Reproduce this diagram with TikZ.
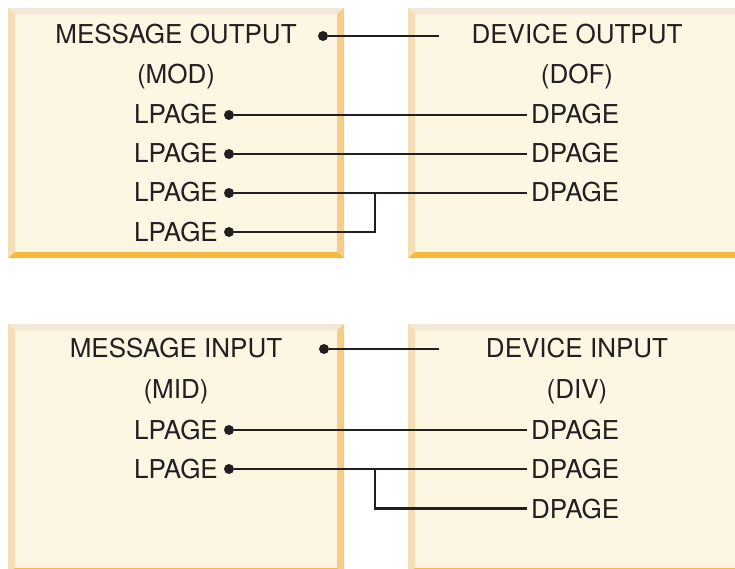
\documentclass[tikz,border=0pt]{standalone}
\usepackage{fontspec}
\setmainfont{TeX Gyre Heros}
\usepackage{tikz}
\usetikzlibrary{positioning}

\definecolor{panelfill}{HTML}{FDF6E3}
\definecolor{beveltop}{HTML}{F2E9D8}
\definecolor{bevelleft}{HTML}{F4DEB5}
\definecolor{bevelright}{HTML}{F6CC86}
\definecolor{bevelbottom}{HTML}{F5B940}
\definecolor{ink}{HTML}{231F20}

% bevelled panel: x1 y1 x2 y2 (y grows downwards)
\newcommand{\bevelpanel}[4]{%
  \fill[panelfill] (#1,#2) rectangle (#3,#4);
  \fill[beveltop] (#1,#2) -- (#3,#2) -- (#3-7,#2+6) -- (#1+7,#2+6) -- cycle;
  \fill[bevelleft] (#1,#2) -- (#1+7,#2+6) -- (#1+7,#4-6) -- (#1,#4) -- cycle;
  \fill[bevelright] (#3,#2) -- (#3-7,#2+6) -- (#3-7,#4-6) -- (#3,#4) -- cycle;
  \fill[bevelbottom] (#1,#4) -- (#3,#4) -- (#3-7,#4-6) -- (#1+7,#4-6) -- cycle;
}

\begin{document}
\begin{tikzpicture}[x=1pt, y=-1pt,
  lbl/.style={inner sep=0, text=ink, font=\fontsize{26}{31}\selectfont},
  dot/.style={circle, fill=ink, inner sep=0, minimum size=10pt},
  wire/.style={draw=ink, line width=2.8pt}
]
  \useasboundingbox (0,0) rectangle (735,569);
  \clip (0,0) rectangle (735,569);

  \bevelpanel{8}{8}{344}{258}
  \bevelpanel{408}{8}{744}{258}
  \bevelpanel{8}{324}{344}{574}
  \bevelpanel{408}{324}{744}{574}

  % output side
  \node[lbl, anchor=base] (mout) at (176,44) {MESSAGE OUTPUT};
  \node[lbl, anchor=base] (mod) at (176,84) {(MOD)};
  \node[lbl, anchor=base east] (lo1) at (218,124) {LPAGE};
  \node[lbl, anchor=base east] (lo2) at (218,163) {LPAGE};
  \node[lbl, anchor=base east] (lo3) at (218,202) {LPAGE};
  \node[lbl, anchor=base east] (lo4) at (218,241) {LPAGE};
  \node[dot] (moutd) at (323,36) {};
  \node[dot] (lo1d) at (229,115) {};
  \node[dot] (lo2d) at (229,154) {};
  \node[dot] (lo3d) at (229,193) {};
  \node[dot] (lo4d) at (229,232) {};

  \node[lbl, anchor=base] (dout) at (577,44) {DEVICE OUTPUT};
  \node[lbl, anchor=base] (dof) at (577,84) {(DOF)};
  \node[lbl, anchor=base west] (do1) at (531,124) {DPAGE};
  \node[lbl, anchor=base west] (do2) at (531,163) {DPAGE};
  \node[lbl, anchor=base west] (do3) at (531,202) {DPAGE};
  \coordinate (doutend) at (439,36);
  \coordinate (ojoin) at (375,0);

  \draw[wire] (moutd) -- (doutend);
  \draw[wire] (lo1d) -- ([xshift=-4pt]do1.west |- lo1d);
  \draw[wire] (lo2d) -- ([xshift=-4pt]do2.west |- lo2d);
  \draw[wire] (lo3d) -- ([xshift=-4pt]do3.west |- lo3d);
  \draw[wire] (lo4d) -| (ojoin |- lo3d);

  % input side
  \node[lbl, anchor=base] (min) at (176,357) {MESSAGE INPUT};
  \node[lbl, anchor=base] (mid) at (176,398) {(MID)};
  \node[lbl, anchor=base east] (li1) at (218,439) {LPAGE};
  \node[lbl, anchor=base east] (li2) at (218,478) {LPAGE};
  \node[dot] (mind) at (324,349) {};
  \node[dot] (li1d) at (229,430) {};
  \node[dot] (li2d) at (229,469) {};

  \node[lbl, anchor=base] (din) at (577,357) {DEVICE INPUT};
  \node[lbl, anchor=base] (div) at (577,398) {(DIV)};
  \node[lbl, anchor=base west] (di1) at (531,439) {DPAGE};
  \node[lbl, anchor=base west] (di2) at (531,478) {DPAGE};
  \node[lbl, anchor=base west] (di3) at (531,518) {DPAGE};
  \coordinate (dinend) at (439,349);
  \coordinate (ijoin) at (375,0);

  \draw[wire] (mind) -- (dinend);
  \draw[wire] (li1d) -- ([xshift=-4pt]di1.west |- li1d);
  \draw[wire] (li2d) -- ([xshift=-4pt]di2.west |- li2d);
  \draw[wire] (ijoin |- li2d) |- ([xshift=-4pt]di3.west);
\end{tikzpicture}
\end{document}
